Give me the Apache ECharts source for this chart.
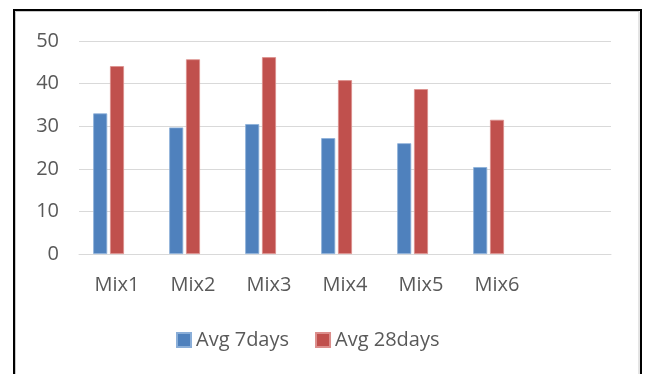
<!DOCTYPE html>
<html>
<head>
<meta charset="utf-8">
<script src="https://cdn.jsdelivr.net/npm/echarts@6/dist/echarts.min.js"></script>
<style>
  html, body { margin: 0; padding: 0; background: #ffffff; }
  #chart { width: 645px; height: 374px; }
</style>
</head>
<body>
<div id="chart"></div>
<script>
// Mix designs (the last slot is an empty category)
const categories = ['Mix1', 'Mix2', 'Mix3', 'Mix4', 'Mix5', 'Mix6', ''];
// Average compressive strength after 7 and 28 days
const avg7days = [33.0, 29.7, 30.5, 27.2, 26.0, 20.4, null];
const avg28days = [44.1, 45.7, 46.2, 40.8, 38.7, 31.5, null];
// Third column of the sheet has no entries yet
const series3 = [null, null, null, null, null, null, null];
const yTicks = [0, 10, 20, 30, 40, 50];

const fontFamily = '"Open Sans", "Liberation Sans", sans-serif';
const textColor = '#595959';
const gridColor = '#d9d9d9';

const chart = echarts.init(document.getElementById('chart'), null, { renderer: 'canvas' });

chart.setOption({
  animation: false,
  backgroundColor: '#ffffff',
  grid: { left: 79, right: 34, top: 41, bottom: 120, containLabel: false },
  xAxis: {
    type: 'category',
    data: categories,
    axisLine: { show: true, lineStyle: { color: gridColor, width: 1 } },
    axisTick: { show: false },
    axisLabel: { color: textColor, fontSize: 20, fontFamily: fontFamily, margin: 21, interval: 0 }
  },
  yAxis: {
    type: 'value',
    min: yTicks[0],
    max: yTicks[yTicks.length - 1],
    interval: 10,
    axisLine: { show: false },
    axisTick: { show: false },
    splitLine: { lineStyle: { color: gridColor, width: 1 } },
    axisLabel: { color: textColor, fontSize: 20, fontFamily: fontFamily, margin: 20 }
  },
  legend: {
    data: ['Avg 7days', 'Avg 28days'],
    left: 171,
    top: 325,
    itemWidth: 14,
    itemHeight: 14,
    itemGap: 26,
    icon: 'rect',
    textStyle: { color: textColor, fontSize: 20, fontFamily: fontFamily }
  },
  series: [
    {
      name: 'Avg 7days',
      type: 'bar',
      data: avg7days,
      barWidth: 14,
      barGap: '20%',
      itemStyle: { color: '#4f81bd', borderColor: '#8aaed8', borderWidth: 0.8 }
    },
    {
      name: 'Avg 28days',
      type: 'bar',
      data: avg28days,
      barWidth: 14,
      barGap: '20%',
      itemStyle: { color: '#c0504d', borderColor: '#dc8e8c', borderWidth: 0.8 }
    },
    {
      name: 'Series3',
      type: 'bar',
      data: series3,
      barWidth: 14,
      barGap: '20%',
      itemStyle: { color: '#9bbb59' }
    }
  ],
  graphic: [
    {
      type: 'rect',
      silent: true,
      shape: { x: 14, y: 10, width: 627, height: 380 },
      style: { fill: null, stroke: '#000000', lineWidth: 2 },
      z: 100
    },
    {
      type: 'rect',
      silent: true,
      shape: { x: 15.5, y: 11.5, width: 623.5, height: 380 },
      style: { fill: null, stroke: '#c8c8c8', lineWidth: 1 },
      z: 99
    }
  ]
});
</script>
</body>
</html>
